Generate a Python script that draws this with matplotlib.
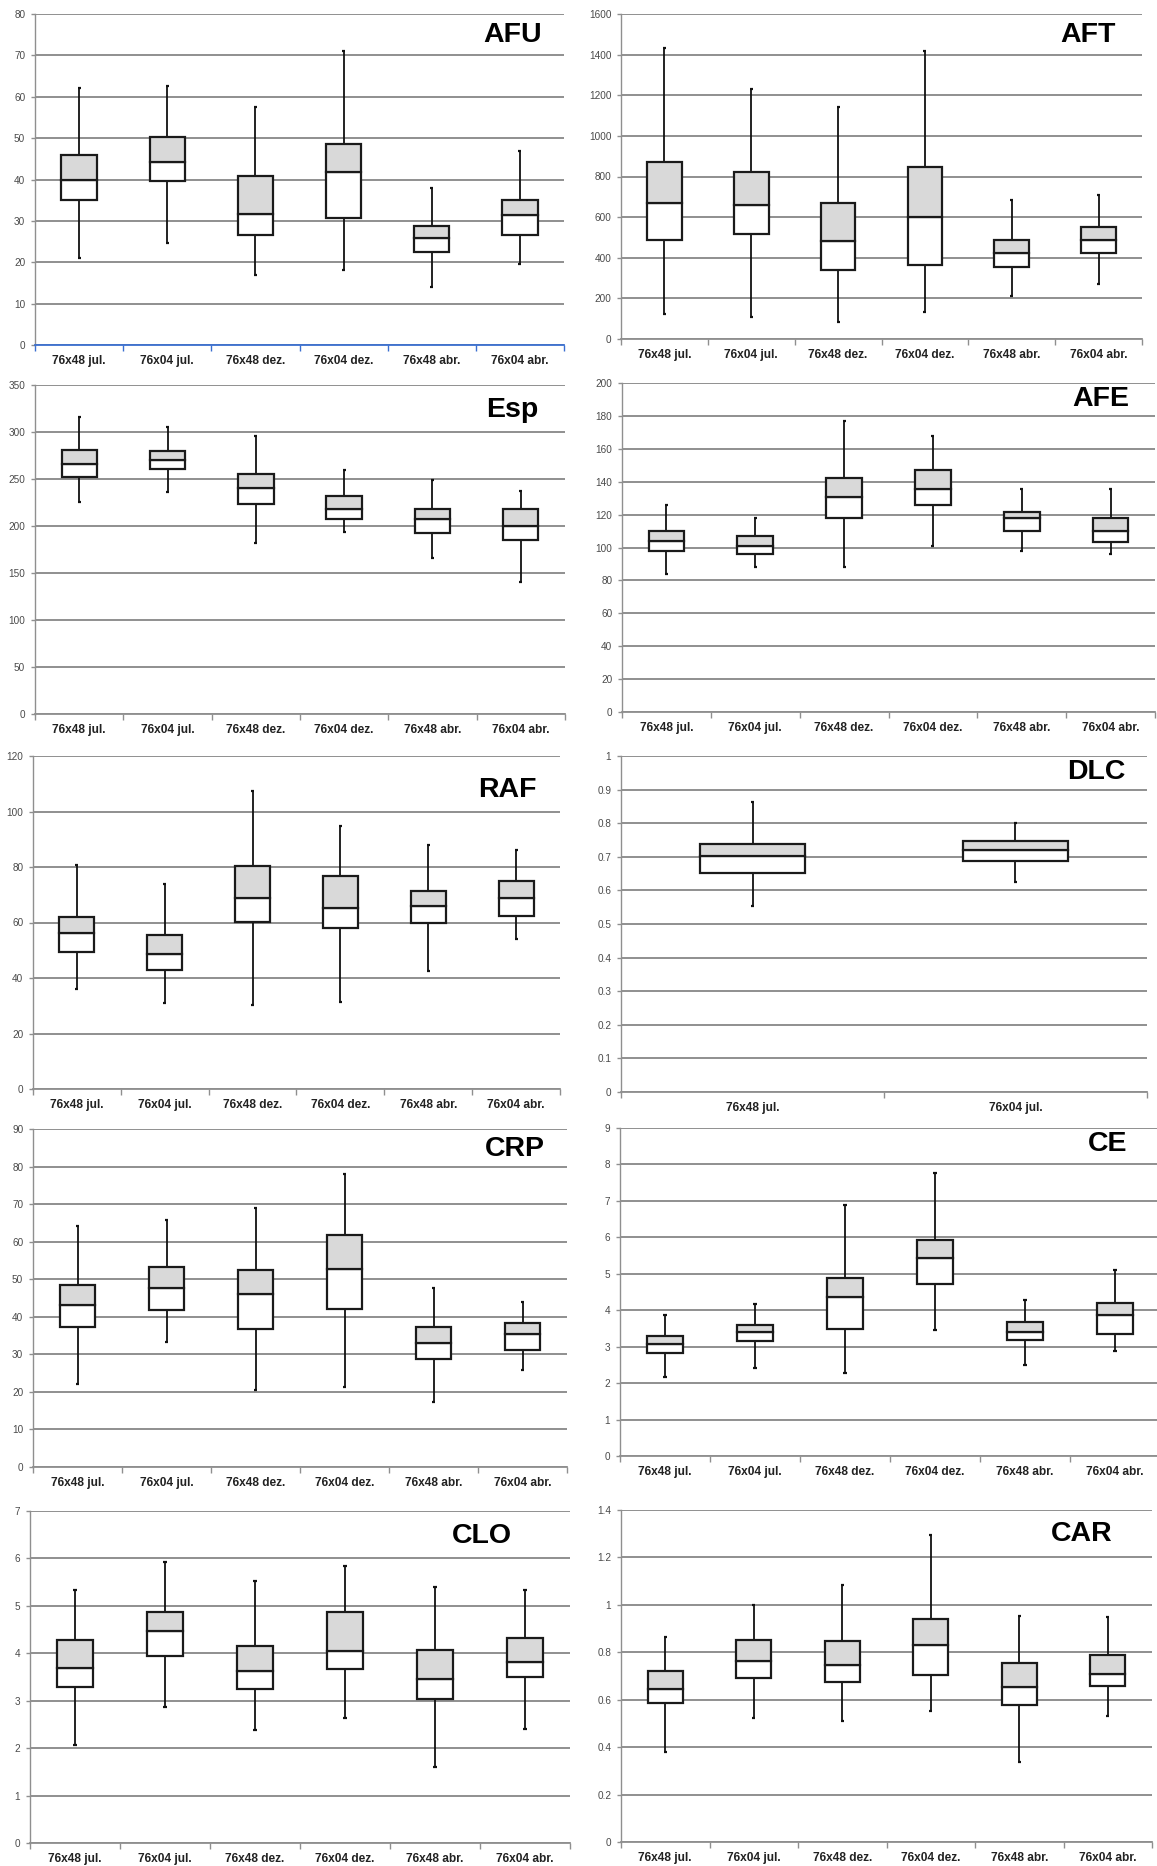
import matplotlib
matplotlib.use("Agg")
import matplotlib.pyplot as plt
from matplotlib.ticker import FuncFormatter, MultipleLocator, FixedLocator

plt.rcParams['font.family'] = ['Liberation Sans', 'DejaVu Sans']

W, H = 1157, 1866

cats6 = ["76x48 jul.", "76x04 jul.", "76x48 dez.", "76x04 dez.", "76x48 abr.", "76x04 abr."]
cats2 = ["76x48 jul.", "76x04 jul."]

# ---- data: whisker low, Q1, median, Q3, whisker high ----
afu_low = [21, 24.6, 17, 18.2, 14, 19.5]
afu_q1 = [35, 39.6, 26.7, 30.6, 22.5, 26.7]
afu_med = [40, 44.2, 31.6, 41.8, 25.8, 31.3]
afu_q3 = [46, 50.3, 40.8, 48.7, 28.8, 35]
afu_high = [62, 62.5, 57.6, 71, 38, 47]

aft_low = [121, 108, 84, 131, 212, 273]
aft_q1 = [489, 517, 340, 365, 353, 425]
aft_med = [672, 658, 483, 603, 425, 489]
aft_q3 = [872, 824, 672, 849, 488, 553]
aft_high = [1432, 1233, 1143, 1417, 683, 708]

esp_low = [226, 236, 182, 194, 166, 140]
esp_q1 = [252, 261, 223, 207, 193, 185]
esp_med = [266, 270, 240, 218, 207, 200]
esp_q3 = [281, 280, 255, 232, 218, 218]
esp_high = [316, 305, 296, 260, 249, 237]

afe_low = [84, 88, 88, 101, 98, 96]
afe_q1 = [98, 96, 118, 126, 110, 103.4]
afe_med = [104, 101, 131, 135.4, 118, 110]
afe_q3 = [110, 107, 142, 147, 121.6, 117.8]
afe_high = [126, 118, 177, 168, 135.6, 135.6]

raf_low = [36, 31, 30.1, 31.4, 42.5, 53.9]
raf_q1 = [49.3, 43, 60.2, 58, 59.9, 62.5]
raf_med = [56.2, 48.7, 69, 65.3, 65.8, 68.9]
raf_q3 = [62, 55.6, 80.3, 76.7, 71.5, 74.8]
raf_high = [80.8, 74, 107.4, 94.6, 88, 86.3]

dlc_low = [0.554, 0.625]
dlc_q1 = [0.652, 0.687]
dlc_med = [0.703, 0.719]
dlc_q3 = [0.738, 0.748]
dlc_high = [0.864, 0.802]

crp_low = [22.2, 33.3, 20.5, 21.2, 17.3, 25.7]
crp_q1 = [37.4, 41.8, 36.7, 42.2, 28.8, 31.1]
crp_med = [43.2, 47.7, 46, 52.8, 32.9, 35.3]
crp_q3 = [48.4, 53.2, 52.5, 61.7, 37.3, 38.4]
crp_high = [64.2, 65.7, 69, 78, 47.7, 43.9]

ce_low = [2.18, 2.42, 2.28, 3.46, 2.49, 2.88]
ce_q1 = [2.83, 3.15, 3.49, 4.73, 3.19, 3.35]
ce_med = [3.08, 3.40, 4.35, 5.42, 3.40, 3.87]
ce_q3 = [3.28, 3.59, 4.89, 5.93, 3.67, 4.21]
ce_high = [3.87, 4.18, 6.89, 7.76, 4.28, 5.11]

clo_low = [2.06, 2.87, 2.39, 2.63, 1.61, 2.41]
clo_q1 = [3.29, 3.95, 3.24, 3.67, 3.03, 3.49]
clo_med = [3.69, 4.47, 3.62, 4.04, 3.45, 3.81]
clo_q3 = [4.28, 4.87, 4.16, 4.87, 4.07, 4.32]
clo_high = [5.34, 5.93, 5.53, 5.84, 5.39, 5.34]

car_low = [0.381, 0.521, 0.511, 0.553, 0.338, 0.530]
car_q1 = [0.585, 0.692, 0.675, 0.703, 0.578, 0.658]
car_med = [0.644, 0.763, 0.747, 0.832, 0.654, 0.709]
car_q3 = [0.723, 0.853, 0.847, 0.940, 0.756, 0.788]
car_high = [0.865, 0.999, 1.083, 1.294, 0.954, 0.948]

panel_names = ["AFU", "AFT", "Esp", "AFE", "RAF", "DLC", "CRP", "CE", "CLO", "CAR"]
panel_ymax = [80, 1600, 350, 200, 120, 1, 90, 9, 7, 1.4]
panel_ystep = [10, 200, 50, 20, 20, 0.1, 10, 1, 1, 0.2]

panels = [
    (cats6, afu_low, afu_q1, afu_med, afu_q3, afu_high),
    (cats6, aft_low, aft_q1, aft_med, aft_q3, aft_high),
    (cats6, esp_low, esp_q1, esp_med, esp_q3, esp_high),
    (cats6, afe_low, afe_q1, afe_med, afe_q3, afe_high),
    (cats6, raf_low, raf_q1, raf_med, raf_q3, raf_high),
    (cats2, dlc_low, dlc_q1, dlc_med, dlc_q3, dlc_high),
    (cats6, crp_low, crp_q1, crp_med, crp_q3, crp_high),
    (cats6, ce_low, ce_q1, ce_med, ce_q3, ce_high),
    (cats6, clo_low, clo_q1, clo_med, clo_q3, clo_high),
    (cats6, car_low, car_q1, car_med, car_q3, car_high),
]

# layout in pixels: left, top, right, bottom of plot area
boxes_px = [
    (35, 14, 564, 345),
    (621, 14, 1142, 339),
    (35, 385, 565, 714),
    (622, 383, 1155, 712),
    (33, 756, 560, 1089),
    (621, 756, 1147, 1092),
    (33, 1129, 567, 1467),
    (620, 1128, 1160, 1456),
    (30, 1511, 570, 1843),
    (621, 1510, 1152, 1842),
]
title_px = [
    (513, 35), (1088, 35), (512, 410), (1101, 399), (507, 790),
    (1096, 772), (515, 1149), (1108, 1144), (482, 1536), (1082, 1534),
]

fig = plt.figure(figsize=(W / 100, H / 100), dpi=100)
fig.patch.set_facecolor("white")

grid_c = "#8f8f8f"
fmt = FuncFormatter(lambda v, p: ("%.10g" % round(v, 6)))

for i, (cats, lo, q1, med, q3, hi) in enumerate(panels):
    l, t, r, b = boxes_px[i]
    ax = fig.add_axes([l / W, 1 - b / H, (r - l) / W, (b - t) / H])
    n = len(cats)
    x = list(range(1, n + 1))
    ymax = panel_ymax[i]
    step = panel_ystep[i]

    ax.set_xlim(0.5, n + 0.5)
    ax.set_ylim(0, ymax)
    ax.yaxis.set_major_locator(MultipleLocator(step))
    ax.yaxis.set_major_formatter(fmt)
    ax.grid(axis="y", color=grid_c, linewidth=1.4, zorder=0)
    ax.set_axisbelow(True)

    # whiskers
    ax.vlines(x, lo, q1, color="#111111", linewidth=1.3, zorder=2)
    ax.vlines(x, q3, hi, color="#111111", linewidth=1.3, zorder=2)
    cw = 0.017 if n == 6 else 0.007
    ax.hlines(lo, [v - cw for v in x], [v + cw for v in x], color="#111111", linewidth=1.6, zorder=2)
    ax.hlines(hi, [v - cw for v in x], [v + cw for v in x], color="#111111", linewidth=1.6, zorder=2)

    # boxes: lower (white) and upper (gray)
    lower_h = [m - a for m, a in zip(med, q1)]
    upper_h = [c - m for c, m in zip(q3, med)]
    ax.bar(x, lower_h, bottom=q1, width=0.4, color="white", edgecolor="#1a1a1a",
           linewidth=1.6, zorder=3)
    ax.bar(x, upper_h, bottom=med, width=0.4, color="#d9d9d9", edgecolor="#1a1a1a",
           linewidth=1.6, zorder=3)

    # axes styling
    for s in ["top", "right"]:
        ax.spines[s].set_visible(False)
    ax.spines["left"].set_color(grid_c)
    ax.spines["left"].set_linewidth(1.0)
    ax.spines["bottom"].set_color("#3a6fd0" if i == 0 else grid_c)
    ax.spines["bottom"].set_linewidth(1.3)

    ax.xaxis.set_major_locator(FixedLocator([k + 0.5 for k in range(0, n + 1)]))
    ax.xaxis.set_major_formatter(FuncFormatter(lambda v, p: ""))
    ax.xaxis.set_minor_locator(FixedLocator(x))
    ax.set_xticklabels(cats, minor=True, fontweight="bold")
    ax.tick_params(axis="x", which="major", length=4, width=1,
                   color=("#3a6fd0" if i == 0 else grid_c), direction="out")
    ax.tick_params(axis="x", which="minor", length=0, pad=7.5, labelsize=8.6, labelcolor="#222222")
    ax.tick_params(axis="y", which="major", length=3, width=1, color=grid_c, labelsize=7.2,
                   labelcolor="#4a4a4a", pad=4)

    tx, ty = title_px[i]
    fig.text(tx / W, 1 - ty / H, panel_names[i], fontsize=20.5, fontweight="bold",
             ha="center", va="center", color="black")

fig.savefig("out.png", dpi=100, facecolor="white")
